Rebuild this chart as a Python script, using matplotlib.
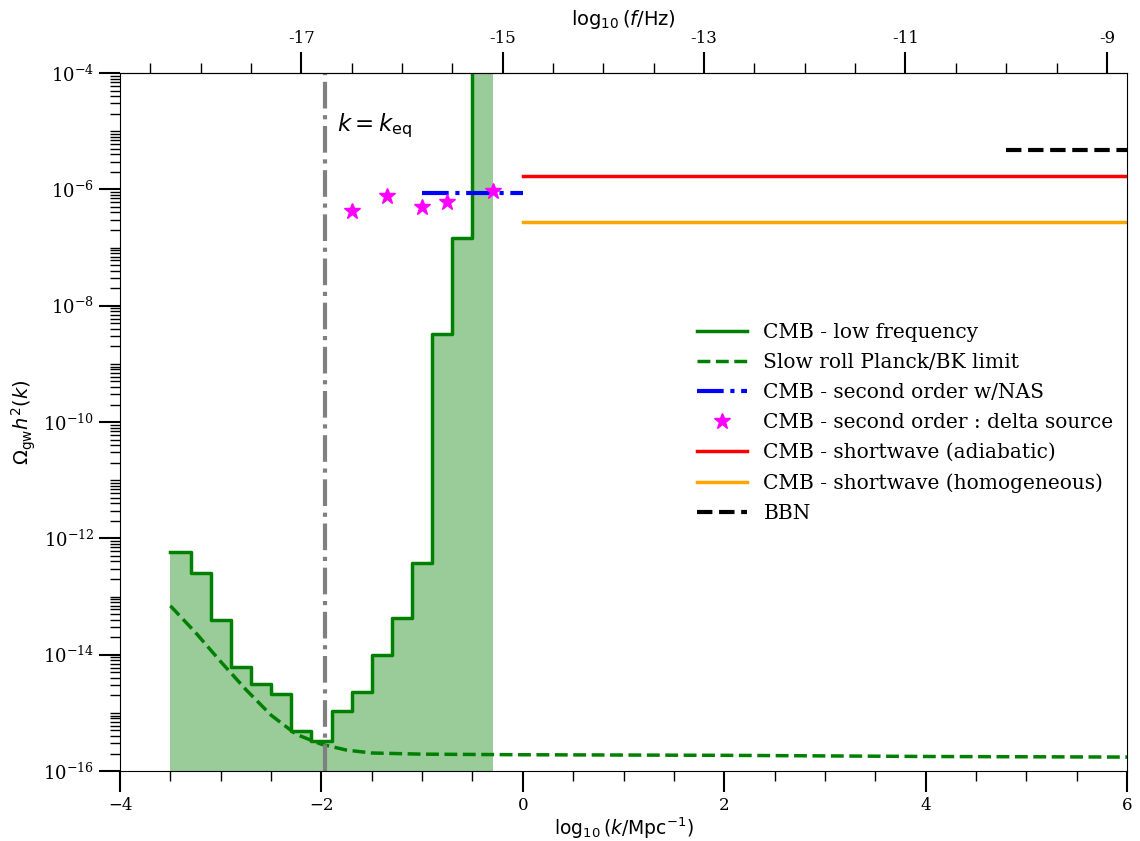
import numpy as np
import matplotlib
matplotlib.use('Agg')
import matplotlib.pyplot as plt
from matplotlib.ticker import MultipleLocator, LogLocator, FixedLocator, NullFormatter

plt.rcParams['font.family'] = 'serif'
plt.rcParams['mathtext.fontset'] = 'dejavuserif'

# CMB low frequency bounds (step bins in log10 k, log10 Omega h^2 per bin)
bin_edges = [-3.5, -3.3, -3.1, -2.9, -2.7, -2.5, -2.3, -2.1, -1.9, -1.7,
             -1.5, -1.3, -1.1, -0.9, -0.7, -0.5, -0.3]
lowfreq_log = [-12.23, -12.60, -13.40, -14.21, -14.51, -14.68, -15.32, -15.48,
               -14.96, -14.64, -14.01, -13.37, -12.43, -8.48, -6.84, -2.0]

# slow roll Planck/BK limit
sr_logk = [-3.5, -3.25, -3.0, -2.75, -2.5, -2.25, -2.0, -1.75, -1.5, -1.0, 0.0, 2.0, 4.0, 6.0]
sr_log = [-13.16, -13.62, -14.12, -14.60, -15.04, -15.37, -15.54, -15.64, -15.69,
          -15.71, -15.72, -15.73, -15.75, -15.76]

# second order w/NAS
nas_logk = [-1.0, 0.0]
nas_log = -6.07

# second order : delta source
delta_logk = [-1.70, -1.35, -1.00, -0.75, -0.30]
delta_log = [-6.37, -6.12, -6.31, -6.21, -6.03]

# shortwave
sw_logk = [0.0, 6.0]
adiab_log = -5.77
homog_log = -6.56

# BBN
bbn_logk = [4.8, 6.0]
bbn_log = -5.32

k_eq = -1.96
f_offset = -14.8   # log10(f/Hz) = log10(k/Mpc^-1) + f_offset

fig = plt.figure(figsize=(11.4, 8.41), dpi=100)
ax = fig.add_axes([0.1053, 0.0832, 0.8833, 0.83])

vals = 10.0**np.array(lowfreq_log)
vals_ext = np.append(vals, vals[-1])
ax.fill_between(bin_edges, vals_ext, 1e-20, step='post', color='green', alpha=0.4, lw=0)
ax.step(bin_edges, vals_ext, where='post', color='green', lw=2.5, label='CMB - low frequency')
ax.plot(sr_logk, 10.0**np.array(sr_log), '--', color='green', lw=2.5,
        label='Slow roll Planck/BK limit')
ax.axvline(k_eq, color='gray', ls='-.', lw=3)
ax.plot(nas_logk, [10**nas_log]*2, '-.', color='blue', lw=3, label='CMB - second order w/NAS')
ax.plot(delta_logk, 10.0**np.array(delta_log), '*', color='magenta', ms=12, ls='none',
        label='CMB - second order : delta source')
ax.plot(sw_logk, [10**adiab_log]*2, '-', color='red', lw=2.5, label='CMB - shortwave (adiabatic)')
ax.plot(sw_logk, [10**homog_log]*2, '-', color='orange', lw=2.5,
        label='CMB - shortwave (homogeneous)')
ax.plot(bbn_logk, [10**bbn_log]*2, '--', color='black', lw=3, label='BBN')

ax.text(-1.85, 10**-4.9, r'$k=k_{\rm eq}$', fontsize=16.5, va='center', math_fontfamily='dejavusans')

ax.set_yscale('log')
ax.set_xlim(-4, 6)
ax.set_ylim(1e-16, 1e-4)
ax.yaxis.set_major_locator(FixedLocator([10.0**p for p in range(-16, -3, 2)]))
ax.yaxis.set_minor_locator(LogLocator(base=10, subs=np.arange(1, 10), numticks=100))
ax.yaxis.set_minor_formatter(NullFormatter())
ax.xaxis.set_major_locator(MultipleLocator(2))
ax.xaxis.set_minor_locator(MultipleLocator(0.5))

ax.tick_params(which='major', length=15, width=1.5, direction='out')
ax.tick_params(which='minor', length=7, width=1, direction='out')
ax.tick_params(axis='y', labelsize=13)
ax.tick_params(axis='x', labelsize=12)

ax.set_xlabel(r'$\log_{10}(k/{\rm Mpc}^{-1})$', fontsize=13.5, labelpad=1,
              math_fontfamily='dejavusans')
ax.set_ylabel(r'$\Omega_{\rm gw}h^2(k)$', fontsize=14, math_fontfamily='dejavusans')

top = ax.secondary_xaxis('top', functions=(lambda x: x + f_offset, lambda x: x - f_offset))
top.set_xticks([-17, -15, -13, -11, -9])
top.set_xticklabels(['-17', '-15', '-13', '-11', '-9'])
top.xaxis.set_minor_locator(MultipleLocator(0.5))
top.tick_params(which='major', length=15, width=1.5, labelsize=12)
top.tick_params(which='minor', length=7, width=1)
top.set_xlabel(r'$\log_{10}(f/{\rm Hz})$', fontsize=14, math_fontfamily='dejavusans')

ax.legend(loc='upper left', bbox_to_anchor=(0.555, 0.668), frameon=False, fontsize=14.5,
          handlelength=2.5, numpoints=1, labelspacing=0.55)

fig.savefig('out.png', dpi=100)
